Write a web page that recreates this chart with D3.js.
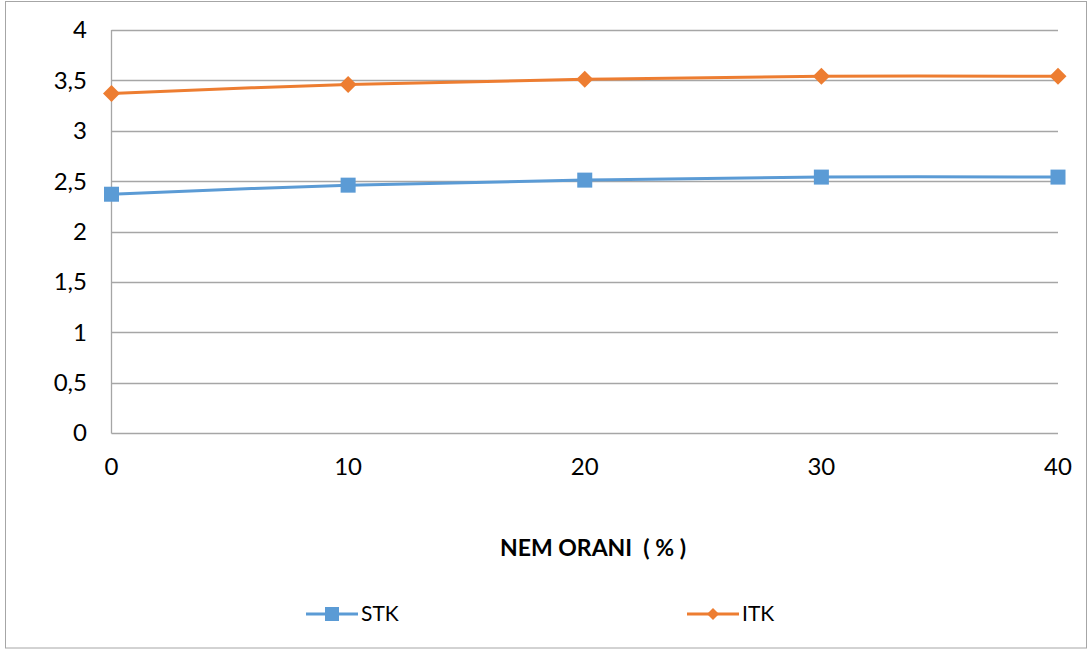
<!DOCTYPE html>
<html><head><meta charset="utf-8">
<script src="https://cdn.jsdelivr.net/npm/d3@7"></script>
<style>body{margin:0;background:#fff}svg{display:block}text{font-family:Lato,"Open Sans",sans-serif;fill:#000;white-space:pre}</style>
</head><body>
<svg id="c" width="1089" height="651"></svg>
<script>
const xValues = [0, 10, 20, 30, 40];
const stk = [2.37, 2.46, 2.51, 2.54, 2.54];
const itk = [3.37, 3.46, 3.51, 3.54, 3.54];
const yTicks = [0, 0.5, 1, 1.5, 2, 2.5, 3, 3.5, 4];
const xTicks = [0, 10, 20, 30, 40];
const seriesNames = ["STK", "ITK"];
const colors = ["#5b9bd5", "#ed7d31"];
const xTitle = "NEM ORANI  ( % )";

const svg = d3.select("#c");
svg.append("rect").attr("x",5.5).attr("y",1.5).attr("width",1081).attr("height",646.5)
  .attr("fill","#fff").attr("stroke","#a6a6a6").attr("stroke-width",1);

const L=111.5, R=1058, T=30, B=433;
const x = d3.scaleLinear().domain([0,40]).range([L,R]);
const y = d3.scaleLinear().domain([0,4]).range([B,T]);

const fmt = v => String(v).replace(".", ",");

// gridlines
svg.append("g").selectAll("line").data(yTicks).join("line")
  .attr("x1",L).attr("x2",R).attr("y1",d=>Math.round(y(d))+0.5).attr("y2",d=>Math.round(y(d))+0.5)
  .attr("stroke","#a6a6a6").attr("stroke-width",1.3);
// y axis line
svg.append("line").attr("x1",L).attr("x2",L).attr("y1",T).attr("y2",B+0.5)
  .attr("stroke","#a6a6a6").attr("stroke-width",1.3);

// y labels
svg.append("g").selectAll("text").data(yTicks).join("text")
  .attr("x",87).attr("y",d=>y(d)).attr("dy","0.35em").attr("text-anchor","end")
  .attr("font-size",24).text(fmt);
// x labels
svg.append("g").selectAll("text").data(xTicks).join("text")
  .attr("x",d=>x(d)).attr("y",467).attr("dy","0.35em").attr("text-anchor","middle")
  .attr("font-size",24).text(d=>d);

svg.append("text").attr("x",593).attr("y",548).attr("dy","0.35em").attr("text-anchor","middle")
  .attr("font-size",23).attr("font-weight","bold").text(xTitle);

const line = d3.line().x((d,i)=>x(xValues[i])).y(d=>y(d)).curve(d3.curveCatmullRom.alpha(0.5));
const data = [stk, itk];
data.forEach((s,k)=>{
  svg.append("path").attr("d",line(s)).attr("fill","none").attr("stroke",colors[k]).attr("stroke-width",3);
  const g = svg.append("g");
  s.forEach((v,i)=>{
    drawMarker(g, k, x(xValues[i]), y(v));
  });
});

function drawMarker(g,k,cx,cy){
  if(k===0){
    g.append("rect").attr("x",cx-7.5).attr("y",cy-7.5).attr("width",15).attr("height",15).attr("fill",colors[0]);
  } else {
    g.append("path").attr("d",`M${cx},${cy-8.5}L${cx+8.5},${cy}L${cx},${cy+8.5}L${cx-8.5},${cy}Z`).attr("fill",colors[1]);
  }
}

// legend
const legX = [306, 687];
seriesNames.forEach((n,k)=>{
  const lx = legX[k], ly = 614;
  svg.append("line").attr("x1",lx).attr("x2",lx+52).attr("y1",ly).attr("y2",ly).attr("stroke",colors[k]).attr("stroke-width",3);
  const g = svg.append("g");
  if(k===0){
    g.append("rect").attr("x",lx+26-7).attr("y",ly-7).attr("width",14).attr("height",14).attr("fill",colors[0]);
  } else {
    const cx=lx+26, cy=ly;
    g.append("path").attr("d",`M${cx},${cy-6}L${cx+6},${cy}L${cx},${cy+6}L${cx-6},${cy}Z`).attr("fill",colors[1]);
  }
  svg.append("text").attr("x",lx+55).attr("y",ly).attr("dy","0.35em").attr("font-size",21).text(n);
});
</script>
</body></html>
